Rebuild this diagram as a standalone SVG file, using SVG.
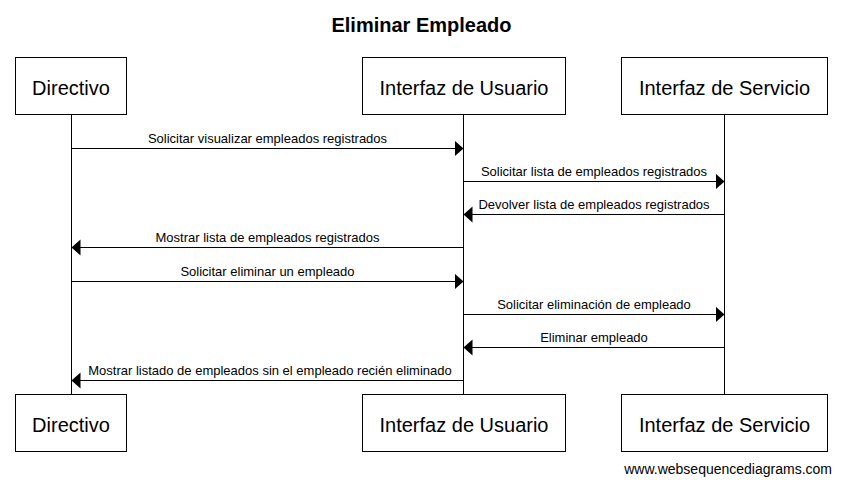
<svg xmlns="http://www.w3.org/2000/svg" width="842" height="486" viewBox="0 0 842 486">
<style>
.box{fill:#fff;stroke:#000;stroke-width:1}
.life{stroke:#000;stroke-width:1}
.lbl{font-family:"Liberation Sans",Arial,sans-serif;font-size:20px;text-anchor:middle;fill:#000}
.msg{stroke:#000;stroke-width:1;fill:none;marker-end:url(#ah)}
.mt{font-family:"Liberation Sans",Arial,sans-serif;font-size:13px;text-anchor:middle;fill:#000}
.title{font-family:"Liberation Sans",Arial,sans-serif;font-size:20px;font-weight:bold;text-anchor:middle;fill:#000}
.wm{font-family:"Liberation Sans",Arial,sans-serif;font-size:14px;text-anchor:end;fill:#000}
</style>
<defs>
<marker id="ah" markerUnits="userSpaceOnUse" markerWidth="10" markerHeight="17" refX="9" refY="8" orient="auto" viewBox="0 0 10 17">
<path d="M0,0 L9,8 L0,16 Z" fill="#000"/>
</marker>
</defs>
<rect width="842" height="486" fill="#fff"/>
<text class="title" x="421.5" y="32">Eliminar Empleado</text>
<g id="lifelines">
<line class="life" x1="71.5" y1="114" x2="71.5" y2="394"/>
<line class="life" x1="463.5" y1="114" x2="463.5" y2="394"/>
<line class="life" x1="724.5" y1="114" x2="724.5" y2="394"/>
</g>
<g id="directivo">
<rect class="box" x="15.5" y="57.5" width="111" height="57"/>
<text class="lbl" x="71" y="95">Directivo</text>
<rect class="box" x="15.5" y="394.5" width="111" height="57"/>
<text class="lbl" x="71" y="432">Directivo</text>
</g>
<g id="usuario">
<rect class="box" x="362.5" y="57.5" width="203" height="57"/>
<text class="lbl" x="464" y="95">Interfaz de Usuario</text>
<rect class="box" x="362.5" y="394.5" width="203" height="57"/>
<text class="lbl" x="464" y="432">Interfaz de Usuario</text>
</g>
<g id="servicio">
<rect class="box" x="621.5" y="57.5" width="206" height="57"/>
<text class="lbl" x="724.5" y="95">Interfaz de Servicio</text>
<rect class="box" x="621.5" y="394.5" width="206" height="57"/>
<text class="lbl" x="724.5" y="432">Interfaz de Servicio</text>
</g>
<g id="connectors">
<line class="msg" x1="71.5" y1="148.5" x2="463.5" y2="148.5"/>
<text class="mt" x="267.5" y="143">Solicitar visualizar empleados registrados</text>
<line class="msg" x1="463.5" y1="181.5" x2="724.5" y2="181.5"/>
<text class="mt" x="594" y="176">Solicitar lista de empleados registrados</text>
<line class="msg" x1="724.5" y1="214.5" x2="463.5" y2="214.5"/>
<text class="mt" x="594" y="209">Devolver lista de empleados registrados</text>
<line class="msg" x1="463.5" y1="247.5" x2="71.5" y2="247.5"/>
<text class="mt" x="267.5" y="242">Mostrar lista de empleados registrados</text>
<line class="msg" x1="71.5" y1="281.5" x2="463.5" y2="281.5"/>
<text class="mt" x="267.5" y="276">Solicitar eliminar un empleado</text>
<line class="msg" x1="463.5" y1="314.5" x2="724.5" y2="314.5"/>
<text class="mt" x="594" y="309">Solicitar eliminación de empleado</text>
<line class="msg" x1="724.5" y1="347.5" x2="463.5" y2="347.5"/>
<text class="mt" x="594" y="342">Eliminar empleado</text>
<line class="msg" x1="463.5" y1="380.5" x2="71.5" y2="380.5"/>
<text class="mt" x="270" y="375">Mostrar listado de empleados sin el empleado recién eliminado</text>
</g>
<text class="wm" x="832" y="474">www.websequencediagrams.com</text>
</svg>
